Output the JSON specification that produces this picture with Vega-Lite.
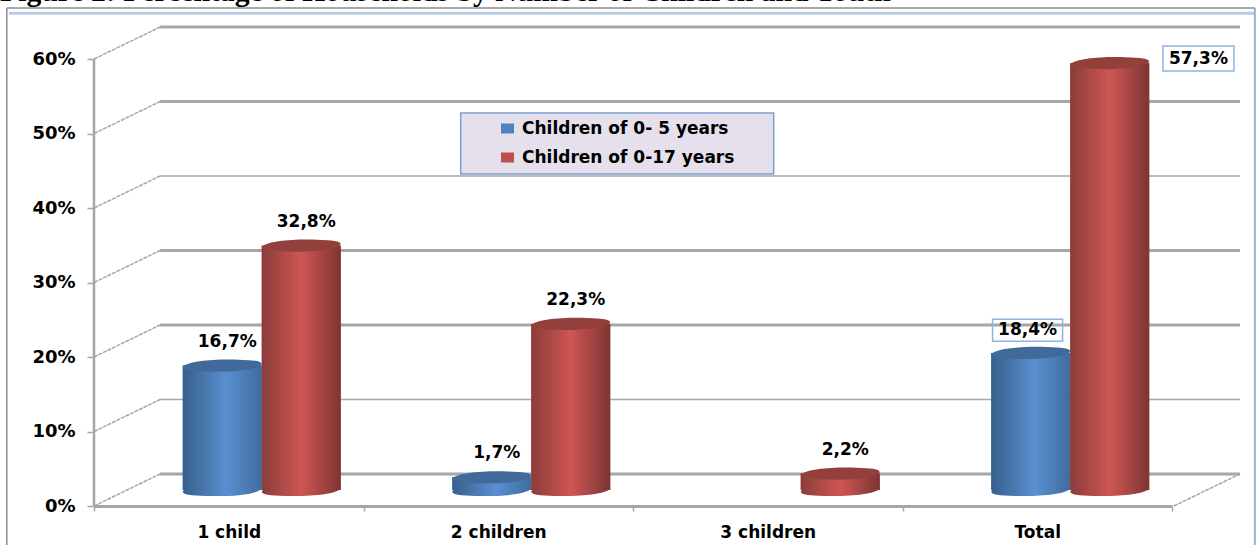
{
  "$schema": "https://vega.github.io/schema/vega-lite/v6.json",
  "width": 1146,
  "height": 479,
  "autosize": "none",
  "padding": {"left": 94, "top": 27, "right": 16, "bottom": 39},
  "background": "white",
  "title": {"text": "Figure 2: Percentage of Households by Number of Children and Youth", "anchor": "start", "frame": "group", "dx": -94, "offset": -24, "baseline": "alphabetic", "font": "Liberation Serif", "fontSize": 29.7, "fontWeight": "bold", "color": "#000000"},
  "config": {"view": {"stroke": null}},
  "datasets": {
    "rows": [
      {"category": "1 child", "series": "Children of 0- 5 years", "value": 16.7, "label": "16,7%"},
      {"category": "1 child", "series": "Children of 0-17 years", "value": 32.8, "label": "32,8%"},
      {"category": "2 children", "series": "Children of 0- 5 years", "value": 1.7, "label": "1,7%"},
      {"category": "2 children", "series": "Children of 0-17 years", "value": 22.3, "label": "22,3%"},
      {"category": "3 children", "series": "Children of 0-17 years", "value": 2.2, "label": "2,2%"},
      {"category": "Total", "series": "Children of 0- 5 years", "value": 18.4, "label": "18,4%"},
      {"category": "Total", "series": "Children of 0-17 years", "value": 57.3, "label": "57,3%"}
    ],
    "levels": [
      {"pct": 0, "back": 4.3},
      {"pct": 10, "back": 14.3},
      {"pct": 20, "back": 24.3},
      {"pct": 30, "back": 34.3},
      {"pct": 40, "back": 44.3},
      {"pct": 50, "back": 54.3},
      {"pct": 60, "back": 64.3}
    ]
  },
  "resolve": {"scale": {"x": "independent", "y": "independent"}},
  "layer": [
    {
      "layer": [
        {
          "mark": {"type": "rule", "color": "#8c8c8c", "strokeWidth": 1.5},
          "data": {"values": [{"edge": "outer frame"}]},
          "encoding": {
            "x": {"datum": -0.323, "type": "quantitative", "scale": {"domain": [0, 4.2449], "nice": false, "zero": false}, "axis": null},
            "x2": {"datum": 4.3},
            "y": {"datum": 66.85, "type": "quantitative", "scale": {"domain": [0, 64.3], "nice": false, "zero": false}, "axis": null}
          }
        },
        {
          "mark": {"type": "rule", "color": "#b8cce4", "strokeWidth": 3},
          "data": {"values": [{"edge": "inner frame"}]},
          "encoding": {
            "x": {"datum": -0.315, "type": "quantitative", "axis": null},
            "x2": {"datum": 4.3},
            "y": {"datum": 66.15, "type": "quantitative", "axis": null}
          }
        },
        {
          "mark": {"type": "rule", "color": "#8c8c8c", "strokeWidth": 1.5},
          "data": {"values": [{"edge": "left frame"}]},
          "encoding": {
            "x": {"datum": -0.323, "type": "quantitative", "axis": null},
            "y": {"datum": 66.85, "type": "quantitative", "axis": null},
            "y2": {"datum": -5.3}
          }
        },
        {
          "mark": {"type": "rule", "color": "#95b3d7", "strokeWidth": 2},
          "data": {"values": [{"edge": "right frame"}]},
          "encoding": {
            "x": {"datum": 4.3, "type": "quantitative", "axis": null},
            "y": {"datum": 66.85, "type": "quantitative", "axis": null},
            "y2": {"datum": -5.3}
          }
        },
        {
          "data": {"name": "levels"},
          "transform": [{"filter": {"field": "pct", "oneOf": [0, 20, 30, 50, 60]}}],
          "mark": {"type": "rule", "color": "#a6a6a6", "strokeWidth": 3},
          "encoding": {
            "x": {"datum": 0.245, "type": "quantitative", "axis": null},
            "x2": {"datum": 4.245},
            "y": {"field": "back", "type": "quantitative", "axis": null}
          }
        },
        {
          "data": {"name": "levels"},
          "transform": [{"filter": {"field": "pct", "oneOf": [10, 40]}}],
          "mark": {"type": "rule", "color": "#a6a6a6", "strokeWidth": 1.5},
          "encoding": {
            "x": {"datum": 0.245, "type": "quantitative", "axis": null},
            "x2": {"datum": 4.245},
            "y": {"field": "back", "type": "quantitative", "axis": null}
          }
        },
        {
          "data": {"name": "levels"},
          "mark": {"type": "rule", "color": "#a6a6a6", "strokeWidth": 1.5, "strokeDash": [4, 1]},
          "encoding": {
            "x": {"datum": 0, "type": "quantitative", "axis": null},
            "x2": {"datum": 0.245},
            "y": {"field": "pct", "type": "quantitative", "axis": null},
            "y2": {"field": "back"}
          }
        },
        {
          "data": {"name": "levels"},
          "transform": [{"filter": "datum.pct === 0"}],
          "mark": {"type": "rule", "color": "#a6a6a6", "strokeWidth": 1.5, "strokeDash": [4, 1]},
          "encoding": {
            "x": {"datum": 4, "type": "quantitative", "axis": null},
            "x2": {"datum": 4.245},
            "y": {"field": "pct", "type": "quantitative", "axis": null},
            "y2": {"field": "back"}
          }
        },
        {
          "mark": {"type": "rule", "color": "#a6a6a6", "strokeWidth": 2.5},
          "data": {"values": [{"edge": "value axis"}]},
          "encoding": {
            "x": {"datum": 0, "type": "quantitative", "axis": null},
            "y": {"datum": 0, "type": "quantitative", "axis": null},
            "y2": {"datum": 60}
          }
        },
        {
          "data": {"values": [{"part": "legend panel"}]},
          "mark": {"type": "point", "filled": true, "opacity": 1, "fill": "#e6e0ec", "stroke": "#7ba0d0", "strokeWidth": 1.5, "size": 97969, "shape": "M-1,-0.195 L1,-0.195 L1,0.195 L-1,0.195 Z"},
          "encoding": {
            "x": {"datum": 1.938, "type": "quantitative", "axis": null},
            "y": {"datum": 48.66, "type": "quantitative", "axis": null}
          }
        },
        {
          "data": {"values": [{"part": "box"}]},
          "mark": {"type": "point", "opacity": 1, "fill": null, "stroke": "#8db3e2", "strokeWidth": 1.5, "size": 4900, "shape": "M-1,-0.314 L1,-0.314 L1,0.314 L-1,0.314 Z"},
          "encoding": {
            "x": {"datum": 3.458, "type": "quantitative", "axis": null},
            "y": {"datum": 23.6, "type": "quantitative", "axis": null}
          }
        },
        {
          "data": {"values": [{"part": "box"}]},
          "mark": {"type": "point", "opacity": 1, "fill": null, "stroke": "#8db3e2", "strokeWidth": 1.5, "size": 5041, "shape": "M-1,-0.352 L1,-0.352 L1,0.352 L-1,0.352 Z"},
          "encoding": {
            "x": {"datum": 4.091, "type": "quantitative", "axis": null},
            "y": {"datum": 60.07, "type": "quantitative", "axis": null}
          }
        },
        {
          "data": {"name": "rows"},
          "transform": [{"filter": "datum.label === '18,4%'"}],
          "mark": {"type": "text", "font": "DejaVu Sans", "fontSize": 17, "fontWeight": "bold", "color": "#000000"},
          "encoding": {
            "x": {"datum": 3.458, "type": "quantitative", "axis": null},
            "y": {"datum": 23.6, "type": "quantitative", "axis": null},
            "text": {"field": "label"}
          }
        },
        {
          "data": {"name": "rows"},
          "transform": [{"filter": "datum.label === '57,3%'"}],
          "mark": {"type": "text", "font": "DejaVu Sans", "fontSize": 17, "fontWeight": "bold", "color": "#000000"},
          "encoding": {
            "x": {"datum": 4.091, "type": "quantitative", "axis": null},
            "y": {"datum": 60.07, "type": "quantitative", "axis": null},
            "text": {"field": "label"}
          }
        }
      ]
    },
    {
      "data": {"name": "rows"},
      "encoding": {
        "x": {"field": "category", "type": "nominal", "axis": null, "scale": {"type": "band", "range": [33, 1111], "paddingInner": 0, "paddingOuter": 0}},
        "xOffset": {"field": "series", "type": "nominal", "scale": {"domain": ["Children of 0- 5 years", "Children of 0-17 years"], "paddingInner": 0, "paddingOuter": 0.706}},
        "y": {"field": "value", "type": "quantitative", "axis": null, "scale": {"domain": [0, 64.3], "range": [463, -16], "nice": false, "zero": false}}
      },
      "layer": [
        {
          "mark": {"type": "bar"},
          "encoding": {
            "y2": {"datum": 0},
            "color": {
              "field": "series",
              "type": "nominal",
              "scale": {"domain": ["Children of 0- 5 years", "Children of 0-17 years"], "range": ["#4f81bd", "#c0504d"]},
              "legend": {
                "orient": "none",
                "legendX": 405,
                "legendY": 93,
                "title": null,
                "zindex": 1,
                "symbolType": "M-1,-0.77 L1,-0.77 L1,0.77 L-1,0.77 Z",
                "symbolSize": 169,
                "labelFont": "DejaVu Sans",
                "labelFontSize": 17,
                "labelFontWeight": "bold",
                "labelColor": "#000000",
                "labelLimit": 300,
                "labelOffset": 6,
                "rowPadding": 11
              }
            }
          }
        },
        {
          "transform": [{"filter": "datum.series === 'Children of 0- 5 years'"}],
          "layer": [
            {
              "mark": {"type": "point", "filled": true, "opacity": 1, "size": 6241, "strokeWidth": 0, "shape": "M-1,0.03 C-0.85,-0.12 -0.2,-0.17 0.4,-0.15 C0.8,-0.14 1,-0.12 1,-0.03 C0.85,0.12 0.2,0.17 -0.4,0.15 C-0.8,0.14 -1,0.12 -1,0.03 Z", "fill": {"gradient": "linear", "x1": 0, "x2": 1, "y1": 0, "y2": 0, "stops": [{"offset": 0, "color": "#36608c"}, {"offset": 0.55, "color": "#5a8fd0"}, {"offset": 1, "color": "#3f6c9f"}]}},
              "encoding": {"y": {"datum": 0, "type": "quantitative", "axis": null}}
            },
            {
              "mark": {"type": "bar", "fill": {"gradient": "linear", "x1": 0, "x2": 1, "y1": 0, "y2": 0, "stops": [{"offset": 0, "color": "#36608c"}, {"offset": 0.55, "color": "#5a8fd0"}, {"offset": 1, "color": "#3f6c9f"}]}},
              "encoding": {"y2": {"datum": 0}}
            },
            {
              "mark": {"type": "point", "filled": true, "opacity": 1, "size": 6241, "strokeWidth": 0, "fill": "#3f6a9a", "shape": "M-1,0.03 C-0.85,-0.12 -0.2,-0.17 0.4,-0.15 C0.8,-0.14 1,-0.12 1,-0.03 C0.85,0.12 0.2,0.17 -0.4,0.15 C-0.8,0.14 -1,0.12 -1,0.03 Z"}
            }
          ]
        },
        {
          "transform": [{"filter": "datum.series === 'Children of 0-17 years'"}],
          "layer": [
            {
              "mark": {"type": "point", "filled": true, "opacity": 1, "size": 6241, "strokeWidth": 0, "shape": "M-1,0.03 C-0.85,-0.12 -0.2,-0.17 0.4,-0.15 C0.8,-0.14 1,-0.12 1,-0.03 C0.85,0.12 0.2,0.17 -0.4,0.15 C-0.8,0.14 -1,0.12 -1,0.03 Z", "fill": {"gradient": "linear", "x1": 0, "x2": 1, "y1": 0, "y2": 0, "stops": [{"offset": 0, "color": "#8a3d3a"}, {"offset": 0.5, "color": "#cf5654"}, {"offset": 1, "color": "#7d3533"}]}},
              "encoding": {"y": {"datum": 0, "type": "quantitative", "axis": null}}
            },
            {
              "mark": {"type": "bar", "fill": {"gradient": "linear", "x1": 0, "x2": 1, "y1": 0, "y2": 0, "stops": [{"offset": 0, "color": "#8a3d3a"}, {"offset": 0.5, "color": "#cf5654"}, {"offset": 1, "color": "#7d3533"}]}},
              "encoding": {"y2": {"datum": 0}}
            },
            {
              "mark": {"type": "point", "filled": true, "opacity": 1, "size": 6241, "strokeWidth": 0, "fill": "#93403d", "shape": "M-1,0.03 C-0.85,-0.12 -0.2,-0.17 0.4,-0.15 C0.8,-0.14 1,-0.12 1,-0.03 C0.85,0.12 0.2,0.17 -0.4,0.15 C-0.8,0.14 -1,0.12 -1,0.03 Z"}
            }
          ]
        },
        {
          "transform": [{"filter": {"field": "label", "oneOf": ["16,7%", "32,8%", "1,7%", "22,3%", "2,2%"]}}],
          "mark": {"type": "text", "font": "DejaVu Sans", "fontSize": 17, "fontWeight": "bold", "color": "#000000", "dy": -24, "dx": 5},
          "encoding": {"text": {"field": "label"}}
        }
      ]
    },
    {
      "data": {"name": "rows"},
      "mark": {"type": "text", "text": ""},
      "encoding": {
        "x": {
          "field": "category",
          "type": "nominal",
          "scale": {"type": "band", "range": [0, 1078], "paddingInner": 0, "paddingOuter": 0},
          "axis": {
            "title": null,
            "orient": "bottom",
            "labelAngle": 0,
            "tickBand": "extent",
            "domainColor": "#a6a6a6",
            "domainWidth": 3,
            "tickColor": "#a6a6a6",
            "tickSize": 5,
            "tickWidth": 1.5,
            "labelPadding": 13,
            "labelFont": "DejaVu Sans",
            "labelFontSize": 17,
            "labelFontWeight": "bold",
            "labelColor": "#000000"
          }
        }
      }
    },
    {
      "data": {"name": "levels"},
      "mark": {"type": "text", "text": ""},
      "encoding": {
        "y": {
          "field": "pct",
          "type": "quantitative",
          "scale": {"domain": [0, 64.3], "nice": false, "zero": false},
          "axis": {
            "values": [0, 10, 20, 30, 40, 50, 60],
            "title": null,
            "orient": "left",
            "grid": false,
            "domain": false,
            "tickColor": "#a6a6a6",
            "tickSize": 7,
            "tickWidth": 1.5,
            "labelPadding": 12,
            "labelFont": "DejaVu Sans",
            "labelFontSize": 18,
            "labelFontWeight": "bold",
            "labelColor": "#000000",
            "labelExpr": "datum.value + '%'"
          }
        }
      }
    }
  ]
}
